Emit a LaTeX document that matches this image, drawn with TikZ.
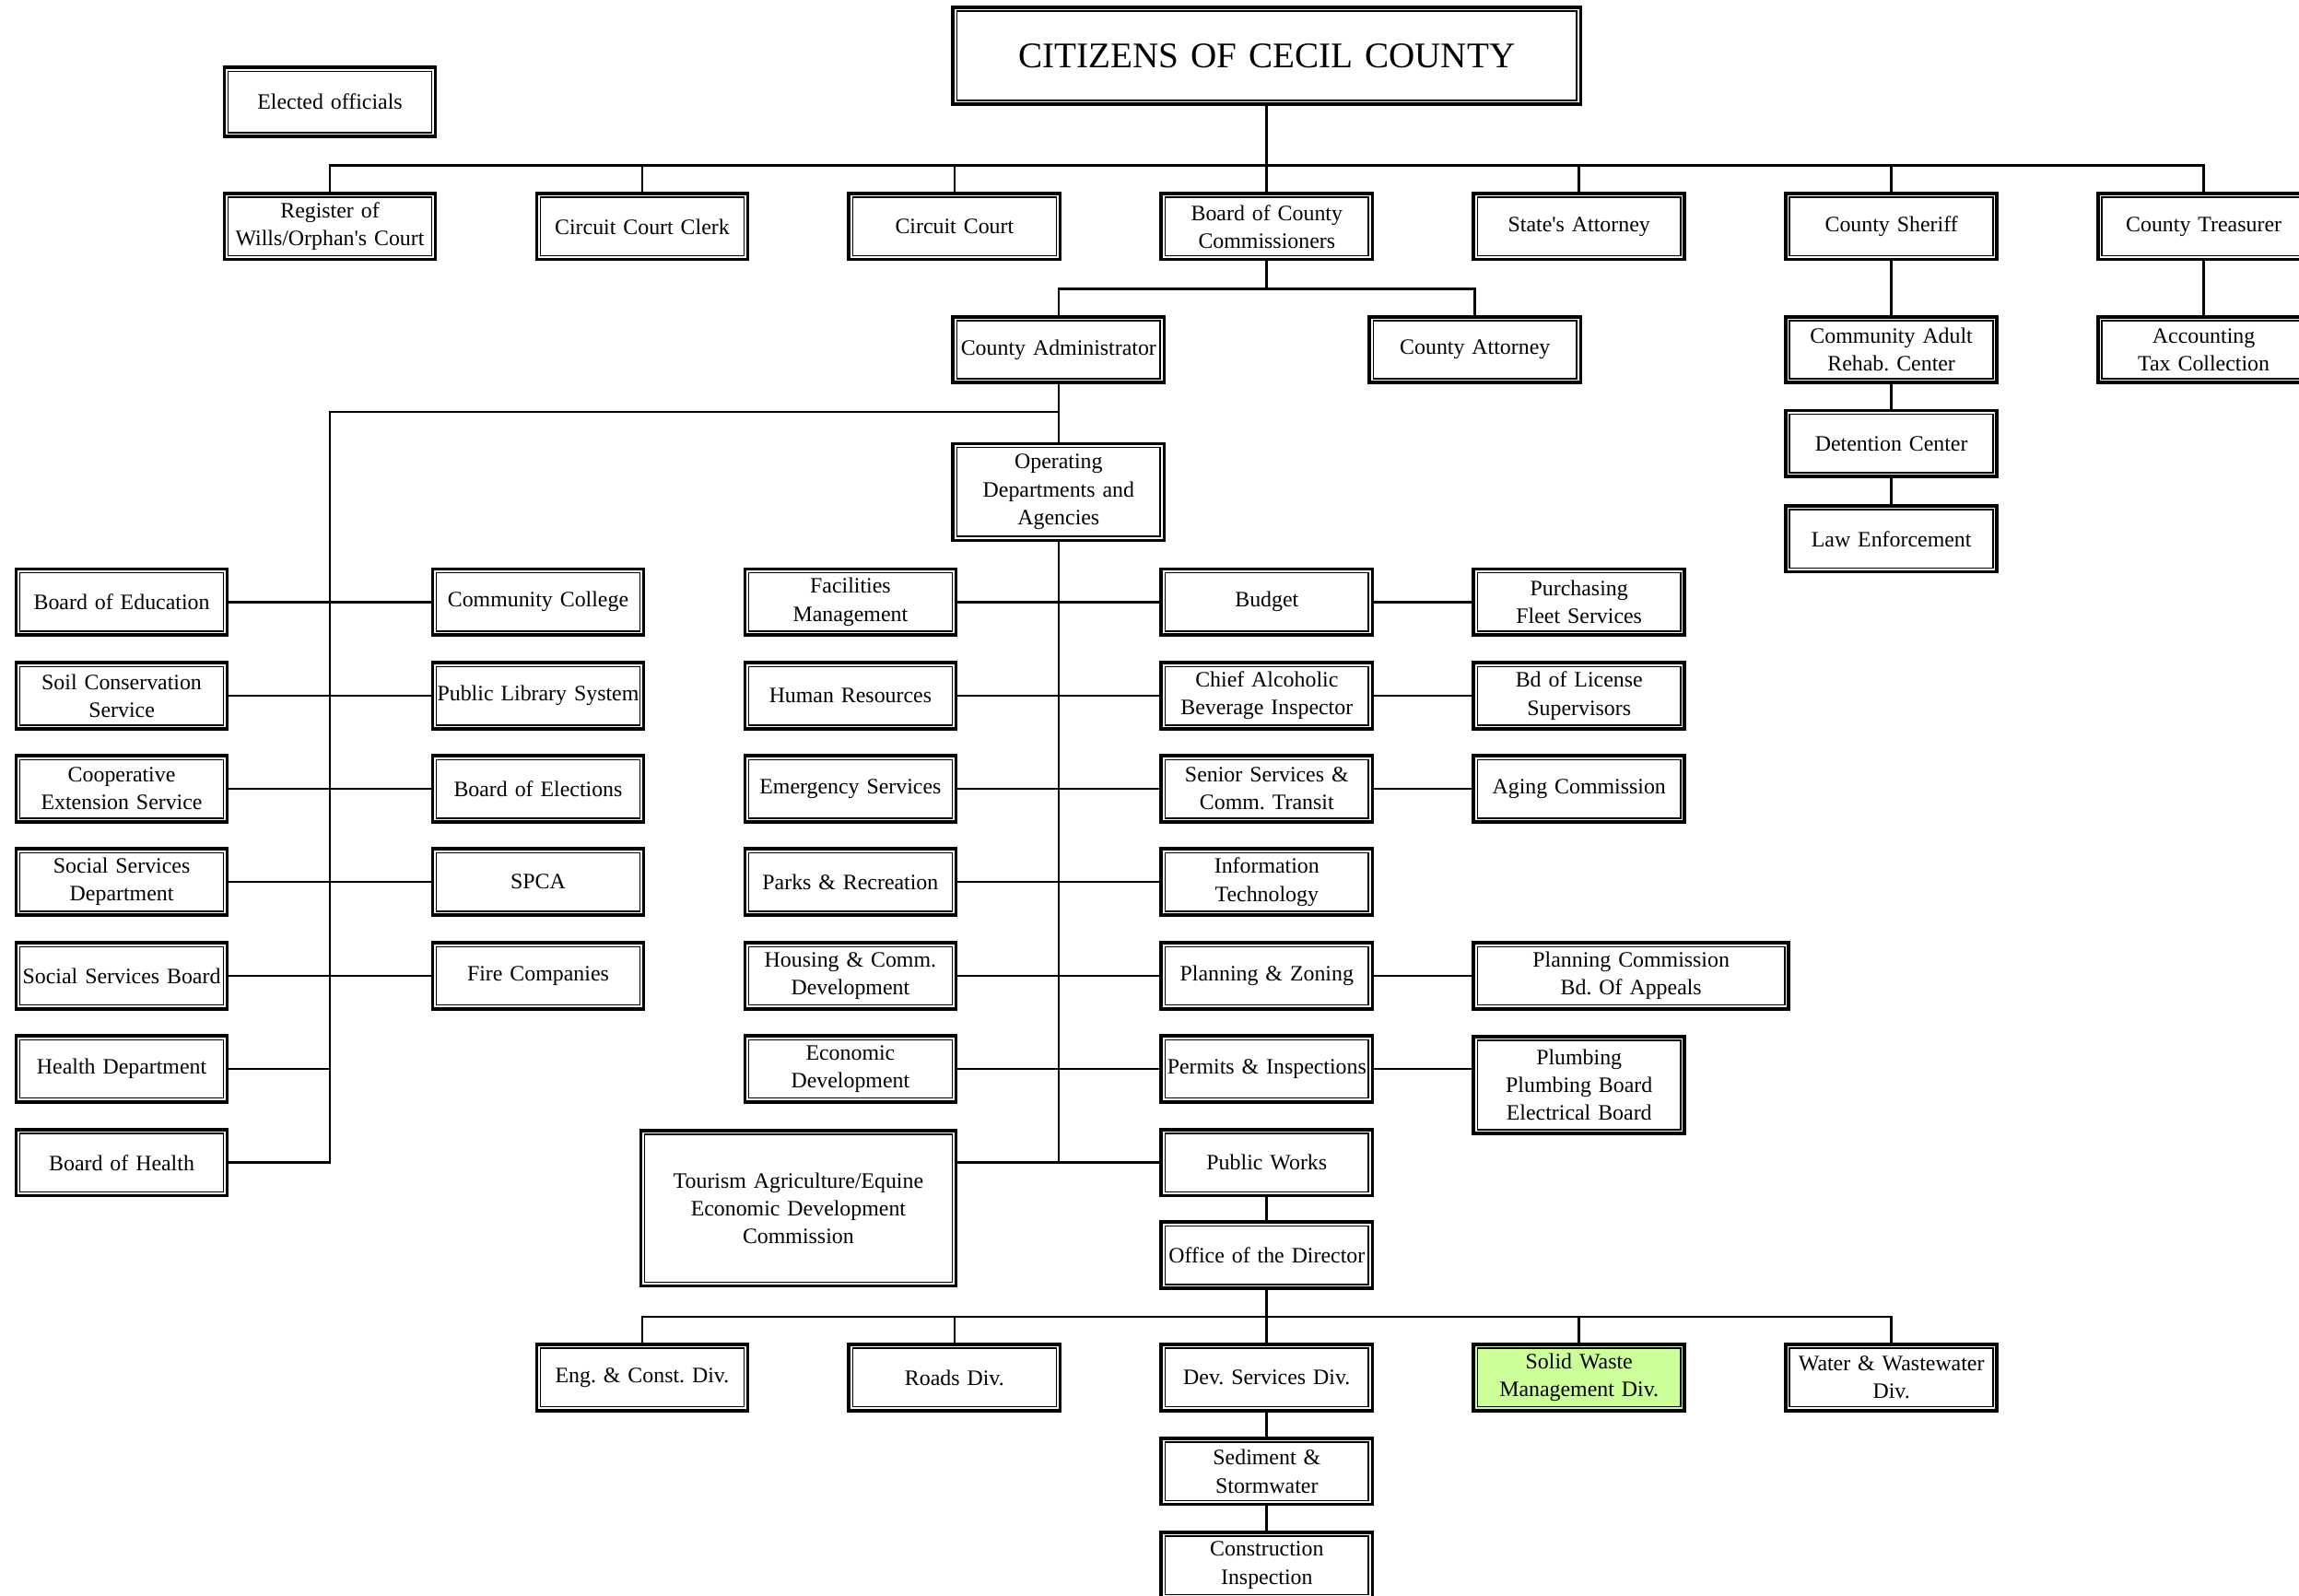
\documentclass[tikz,border=0pt]{standalone}
\usepackage{fontspec}
\setmainfont{Liberation Serif}
\usetikzlibrary{positioning}
\definecolor{wastegreen}{RGB}{204,255,153}
\frenchspacing
\newcommand\boxfont{\fontsize{15}{19}\selectfont}
\newcommand\titlefont{\fontsize{24.6}{29}\selectfont}
\tikzset{
  box/.style={draw, line width=2.3pt, fill=white, minimum width=144pt,
    minimum height=45pt, text width=142pt, align=center, inner sep=0pt,
    font=\boxfont,
    path picture={\draw[line width=1pt]
      ([shift={(2.6pt,2.6pt)}]path picture bounding box.south west) rectangle
      ([shift={(-2.6pt,-2.6pt)}]path picture bounding box.north east);}},
  wide box/.style={box, minimum width=215pt, text width=212pt},
  tall box/.style={box, minimum height=66pt},
  link/.style={line width=1.7pt},
}

\begin{document}
\begin{tikzpicture}[x=1pt, y=-1pt]
  \useasboundingbox (0,0) rectangle (1568,1088);

  % Top
  \node[box, minimum width=428pt, text width=420pt, minimum height=66pt,
    font=\titlefont] (citizens) at (864,38) {CITIZENS OF CECIL COUNTY};
  \node[box, minimum height=47pt] (elected) at (225,69.5) {Elected officials};

  % Elected offices
  \node[box] (register) at (225,154.5) {Register of\\Wills/Orphan\textquotesingle s Court};
  \node[box] (clerk) at (438,154.5) {Circuit Court Clerk};
  \node[box] (court) at (651,154.5) {Circuit Court};
  \node[box] (bcc) at (864,154.5) {Board of County\\Commissioners};
  \node[box] (sa) at (1077,154.5) {State\textquotesingle s Attorney};
  \node[box] (sheriff) at (1290,154.5) {County Sheriff};
  \node[box] (treasurer) at (1503,154.5) {County Treasurer};

  \coordinate (topbus) at (864,113);
  \draw[link] (citizens.south) -- (topbus);
  \foreach \n in {register,clerk,court,bcc,sa,sheriff,treasurer}
    \draw[link] (\n.north) |- (topbus);

  % Under the commissioners, sheriff and treasurer
  \node[box] (admin) at (722,238.5) {County Administrator};
  \node[box] (attorney) at (1006,238.5) {County Attorney};
  \node[box] (rehab) at (1290,238.5) {Community Adult\\Rehab. Center};
  \node[box] (detention) at (1290,302.5) {Detention Center};
  \node[box] (lawenf) at (1290,367.5) {Law Enforcement};
  \node[box] (accounting) at (1503,238.5) {Accounting\\Tax Collection};

  \coordinate (bccbus) at (864,197);
  \draw[link] (bcc.south) -- (bccbus);
  \draw[link] (admin.north) |- (bccbus);
  \draw[link] (attorney.north) |- (bccbus);
  \draw[link] (sheriff) -- (rehab) -- (detention) -- (lawenf);
  \draw[link] (treasurer) -- (accounting);

  \node[tall box] (ops) at (722,335.5) {Operating\\Departments and\\Agencies};

  % Boards and agencies (left)
  \node[box] (boe) at (83,410.5) {Board of Education};
  \node[box] (soil) at (83,474.5) {Soil Conservation\\Service};
  \node[box] (coop) at (83,538) {Cooperative\\Extension Service};
  \node[box] (ssdept) at (83,601.5) {Social Services\\Department};
  \node[box] (ssboard) at (83,665.5) {Social Services Board};
  \node[box] (healthdept) at (83,729) {Health Department};
  \node[box] (boh) at (83,793) {Board of Health};
  \node[box] (college) at (367,410.5) {Community College};
  \node[box] (library) at (367,474.5) {Public Library System};
  \node[box] (elections) at (367,538) {Board of Elections};
  \node[box] (spca) at (367,601.5) {SPCA};
  \node[box] (fire) at (367,665.5) {Fire Companies};

  \coordinate (leftbus) at (225,281);
  \draw[link] (admin.south) -- (ops.north);
  \draw[link] (admin.south |- leftbus) -- (leftbus) |- (boh.east);
  \draw[link] (boe.east) -- (college.west);
  \draw[link] (soil.east) -- (library.west);
  \draw[link] (coop.east) -- (elections.west);
  \draw[link] (ssdept.east) -- (spca.west);
  \draw[link] (ssboard.east) -- (fire.west);
  \draw[link] (healthdept.east) -- (healthdept.east -| leftbus);

  % Operating departments
  \node[box] (facilities) at (580,410.5) {Facilities\\Management};
  \node[box] (hr) at (580,474.5) {Human Resources};
  \node[box] (emergency) at (580,538) {Emergency Services};
  \node[box] (parks) at (580,601.5) {Parks \& Recreation};
  \node[box] (housing) at (580,665.5) {Housing \& Comm.\\Development};
  \node[box] (econ) at (580,729) {Economic\\Development};
  \node[wide box, minimum height=106pt] (tourism) at (544.5,824)
    {Tourism Agriculture/Equine\\Economic Development\\Commission};
  \node[box] (budget) at (864,410.5) {Budget};
  \node[box] (abc) at (864,474.5) {Chief Alcoholic\\Beverage Inspector};
  \node[box] (senior) at (864,538) {Senior Services \&\\Comm. Transit};
  \node[box] (infotech) at (864,601.5) {Information\\Technology};
  \node[box] (planning) at (864,665.5) {Planning \& Zoning};
  \node[box] (permits) at (864,729) {Permits \& Inspections};
  \node[box] (pubworks) at (864,793) {Public Works};
  \node[box] (purchasing) at (1077,410.5) {Purchasing\\Fleet Services};
  \node[box] (license) at (1077,474.5) {Bd of License\\Supervisors};
  \node[box] (aging) at (1077,538) {Aging Commission};
  \node[wide box] (plancomm) at (1112.5,665.5) {Planning Commission\\Bd. Of Appeals};
  \node[tall box] (plumbing) at (1077,740) {Plumbing\\Plumbing Board\\Electrical Board};

  \draw[link] (ops.south) -- (ops.south |- pubworks.west);
  \draw[link] (tourism.east |- pubworks.west) -- (pubworks.west);
  \draw[link] (facilities.east) -- (budget.west);
  \draw[link] (hr.east) -- (abc.west);
  \draw[link] (emergency.east) -- (senior.west);
  \draw[link] (parks.east) -- (infotech.west);
  \draw[link] (housing.east) -- (planning.west);
  \draw[link] (econ.east) -- (permits.west);
  \draw[link] (budget.east) -- (purchasing.west);
  \draw[link] (abc.east) -- (license.west);
  \draw[link] (senior.east) -- (aging.west);
  \draw[link] (planning.east) -- (plancomm.west);
  \draw[link] (permits.east) -- (permits.east -| plumbing.west);

  % Public works divisions
  \node[box] (director) at (864,856) {Office of the Director};
  \node[box] (eng) at (438,939.5) {Eng. \& Const. Div.};
  \node[box] (roads) at (651,939.5) {Roads Div.};
  \node[box] (devserv) at (864,939.5) {Dev. Services Div.};
  \node[box, fill=wastegreen] (solidwaste) at (1077,939.5) {Solid Waste\\Management Div.};
  \node[box] (water) at (1290,939.5) {Water \& Wastewater\\Div.};
  \node[box] (sediment) at (864,1003.5) {Sediment \&\\Stormwater};
  \node[box] (construction) at (864,1067.5) {Construction\\Inspection};

  \coordinate (divbus) at (864,898);
  \draw[link] (pubworks) -- (director);
  \draw[link] (director.south) -- (divbus);
  \foreach \n in {eng,roads,devserv,solidwaste,water}
    \draw[link] (\n.north) |- (divbus);
  \draw[link] (devserv) -- (sediment) -- (construction);
\end{tikzpicture}
\end{document}
